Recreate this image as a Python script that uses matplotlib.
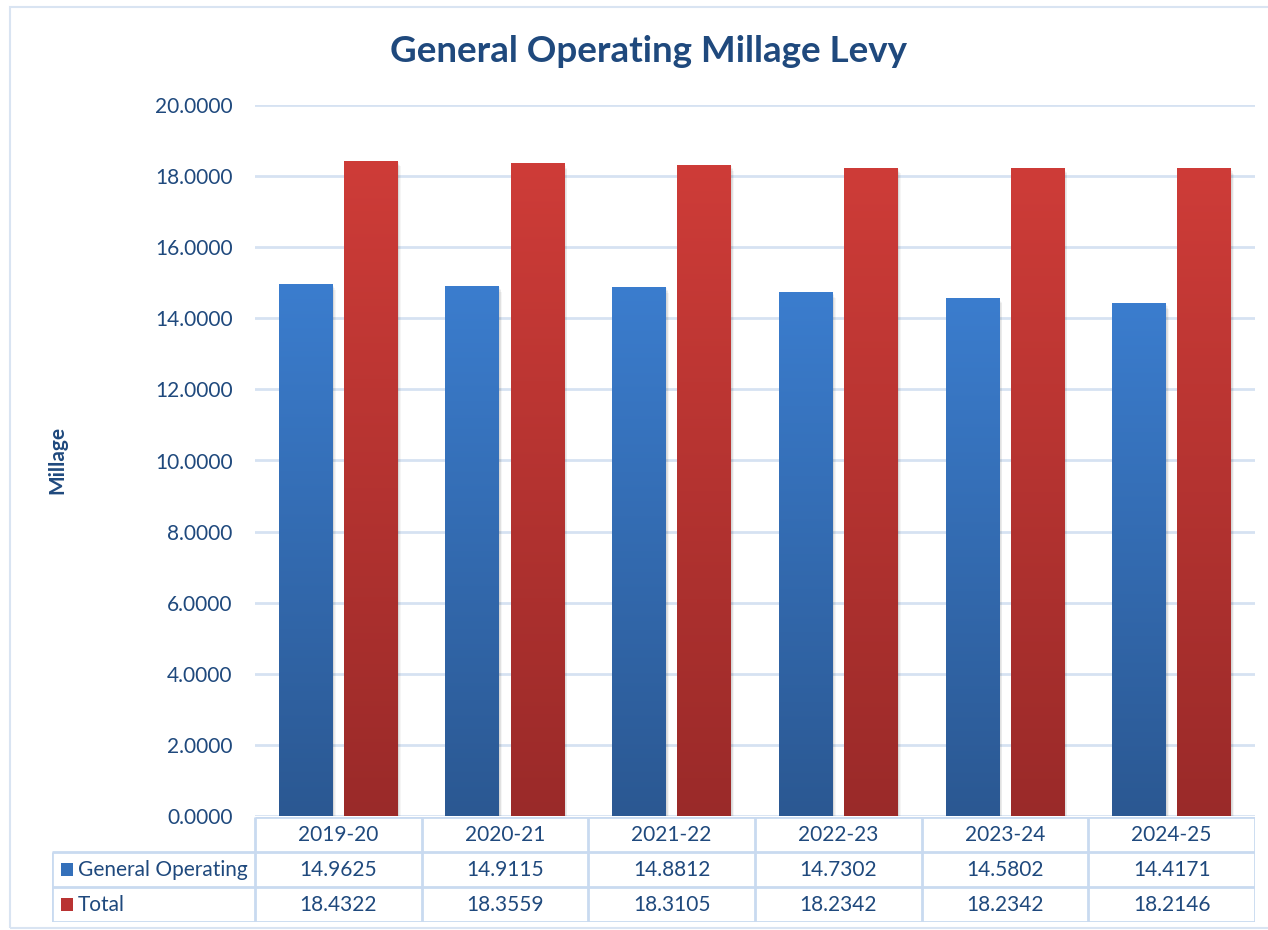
import matplotlib.pyplot as plt
import numpy as np
from matplotlib.patches import Rectangle
from matplotlib.colors import LinearSegmentedColormap

years = ["2019-20", "2020-21", "2021-22", "2022-23", "2023-24", "2024-25"]
general = [14.9625, 14.9115, 14.8812, 14.7302, 14.5802, 14.4171]
total = [18.4322, 18.3559, 18.3105, 18.2342, 18.2342, 18.2146]
series_names = ["General Operating", "Total"]

W, H = 1268, 930
text_col = "#1F497D"
grid_col = "#D6E2F2"
line_col = "#C9DAF0"
plt.rcParams['font.family'] = ['Lato', 'DejaVu Sans']
fs = 15

fig = plt.figure(figsize=(W / 100, H / 100), dpi=100)

# chart border
fig.patches.append(Rectangle((10 / W, 0.002), 1.0, 1 - 7 / H - 0.002, transform=fig.transFigure,
                             fill=False, edgecolor="#D9E4F2", lw=1.5))

ax = fig.add_axes([255 / W, (H - 816) / H, 1000 / W, 711 / H])
x = np.arange(len(years))
bw = 0.324
gap = 0.066
off = (bw + gap) / 2

blue_cm = LinearSegmentedColormap.from_list("b", ["#2B5892", "#3B7DCE"])
red_cm = LinearSegmentedColormap.from_list("r", ["#9A2A29", "#CE3C38"])
grad = np.linspace(0, 1, 256).reshape(-1, 1)

for vals, shift, cm in [(general, -off, blue_cm), (total, off, red_cm)]:
    bars = ax.bar(x + shift, vals, width=bw, color="none", zorder=3)
    for b in bars:
        x0, w, h = b.get_x(), b.get_width(), b.get_height()
        # soft shadow
        for k in range(4):
            sh = Rectangle((x0 + 0.004 * (k + 1), 0), w, h - 0.04 * (k + 1), facecolor="black",
                           alpha=0.04, lw=0, zorder=2)
            ax.add_patch(sh)
        im = ax.imshow(grad, extent=(x0, x0 + w, 0, h), origin="lower", cmap=cm,
                       aspect="auto", zorder=3)
        im.set_clip_path(b)

ax.set_xlim(-0.5, len(years) - 0.5)
ax.set_ylim(0, 20)
ax.set_yticks(np.arange(0, 20.1, 2))
ax.set_yticklabels([f"{v:.4f}" for v in np.arange(0, 20.1, 2)], fontsize=fs, color=text_col)
ax.tick_params(axis="y", length=0, pad=16)
ax.set_xticks([])
ax.yaxis.grid(True, color=grid_col, lw=2, zorder=0)
for s in ax.spines.values():
    s.set_visible(False)

fig.text(57 / W, 1 - 460 / H, "Millage", rotation=90, ha="center", va="center",
         fontsize=fs, fontweight="bold", color=text_col)
fig.text(648 / W, 1 - 52 / H, "General Operating Millage Levy", ha="center", va="center",
         fontsize=26.5, fontweight="bold", color=text_col)

# data table
tab = fig.add_axes([52 / W, (H - 922) / H, 1203 / W, 105 / H])
left = -0.5 - 203 / (1000 / 6)
tab.set_xlim(left, len(years) - 0.5)
tab.set_ylim(0, 3)
tab.axis("off")
kw = dict(color=line_col, lw=2, solid_capstyle="butt")
tab.plot([-0.5, len(years) - 0.5], [3, 3], **kw)
tab.plot([left, len(years) - 0.5], [2, 2], **kw)
tab.plot([left, len(years) - 0.5], [1, 1], **kw)
tab.plot([left, len(years) - 0.5], [0, 0], **kw)
tab.plot([left, left], [0, 2], **kw)
for i in range(len(years) + 1):
    tab.plot([i - 0.5, i - 0.5], [0, 3], **kw)
for i, yr in enumerate(years):
    tab.text(i, 2.5, yr, ha="center", va="center", fontsize=fs, color=text_col)
    tab.text(i, 1.5, f"{general[i]:.4f}", ha="center", va="center", fontsize=fs, color=text_col)
    tab.text(i, 0.5, f"{total[i]:.4f}", ha="center", va="center", fontsize=fs, color=text_col)
sq = 12 / (1000 / 6)
for row, name, col in [(1.5, series_names[0], "#3470BA"), (0.5, series_names[1], "#B93332")]:
    tab.add_patch(Rectangle((left + 9 / (1000 / 6), row - 0.19), sq, 0.38, facecolor=col, lw=0))
    tab.text(left + 26 / (1000 / 6), row, name, ha="left", va="center", fontsize=fs, color=text_col)

fig.savefig("out.png", dpi=100)
